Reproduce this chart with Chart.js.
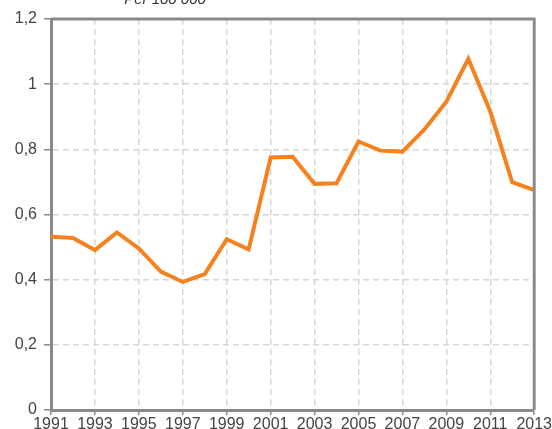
<!DOCTYPE html>
<html>
<head>
<meta charset="utf-8">
<script src="https://cdn.jsdelivr.net/npm/chart.js@4/dist/chart.umd.min.js"></script>
<style>
  html, body { margin: 0; padding: 0; background: #fff; }
  #wrap { width: 552px; height: 429px; position: relative; }
</style>
</head>
<body>
<div id="wrap"><canvas id="c" width="552" height="429"></canvas></div>
<script>
const years = ['1991','1992','1993','1994','1995','1996','1997','1998','1999','2000','2001','2002','2003','2004','2005','2006','2007','2008','2009','2010','2011','2012','2013'];
const rates = [0.532,0.528,0.491,0.545,0.496,0.425,0.393,0.417,0.524,0.493,0.775,0.777,0.694,0.696,0.824,0.796,0.793,0.861,0.946,1.078,0.916,0.699,0.675];
const yTicks = [0, 0.2, 0.4, 0.6, 0.8, 1, 1.2];
const titleText = 'Per 100 000';

const FONT = "'Liberation Sans Narrow', 'Liberation Sans', sans-serif";
const AXIS = '#8a8a8a';
const GRID = '#d6d6d6';

const frame = {
  id: 'frame',
  afterDraw(chart) {
    const {ctx, chartArea: a} = chart;
    ctx.save();
    ctx.strokeStyle = AXIS;
    ctx.lineWidth = 3;
    ctx.beginPath();
    ctx.moveTo(a.left, a.top);
    ctx.lineTo(a.right, a.top);
    ctx.lineTo(a.right, a.bottom);
    ctx.stroke();
    ctx.fillStyle = '#333';
    ctx.font = "italic 15px " + FONT;
    ctx.textAlign = 'center';
    ctx.textBaseline = 'alphabetic';
    ctx.fillText(titleText, 165, 4);
    ctx.restore();
  }
};

new Chart(document.getElementById('c'), {
  type: 'line',
  data: {
    labels: years,
    datasets: [{
      data: rates,
      borderColor: '#F5821F',
      borderWidth: 4,
      pointRadius: 0,
      tension: 0,
      fill: false
    }]
  },
  options: {
    responsive: false,
    animation: false,
    layout: { padding: { left: 0, top: 19, right: 15, bottom: 0 } },
    plugins: { legend: { display: false }, tooltip: { enabled: false } },
    scales: {
      x: {
        type: 'category',
        offset: false,
        afterFit(s) { s.height = 19; },
        grid: {
          color: c => (c.index % 2 === 0 ? GRID : 'transparent'),
          tickColor: c => (c.index % 2 === 0 ? AXIS : 'transparent'),
          tickLength: 5,
          lineWidth: 1.5
        },
        border: { display: true, color: AXIS, width: 3, dash: [6, 4] },
        ticks: {
          autoSkip: false,
          maxRotation: 0,
          padding: 0,
          color: '#444',
          font: { family: FONT, size: 16 },
          callback: function(v, i) { return i % 2 === 0 ? this.getLabelForValue(v) : ''; }
        }
      },
      y: {
        min: 0,
        max: 1.2,
        afterFit(s) { s.width = 51; },
        afterBuildTicks(s) { s.ticks = yTicks.map(v => ({ value: v })); },
        grid: {
          color: GRID,
          tickColor: AXIS,
          tickLength: 7,
          lineWidth: 1.5
        },
        border: { display: true, color: AXIS, width: 3, dash: [6, 4] },
        ticks: {
          padding: 7,
          color: '#444',
          font: { family: FONT, size: 16 },
          callback: v => String(Math.round(v * 10) / 10).replace('.', ',')
        }
      }
    }
  },
  plugins: [frame]
});
</script>
</body>
</html>
